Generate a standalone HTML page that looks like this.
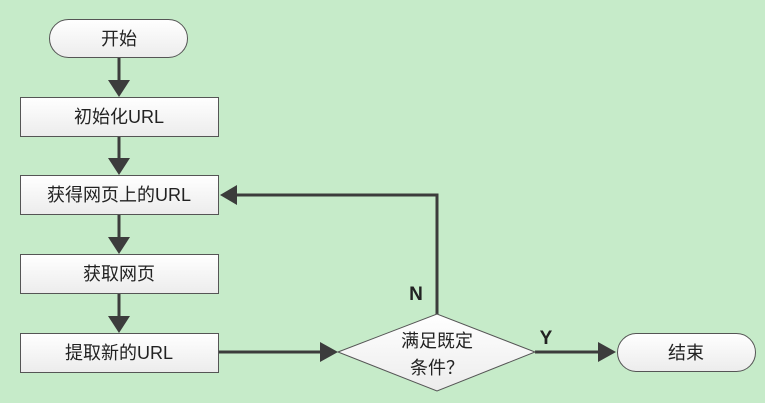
<!DOCTYPE html>
<html><head><meta charset="utf-8"><style>
html,body{margin:0;padding:0;background:#c6ebc9;}
svg{display:block;}
text{font-family:"Liberation Sans","Noto Sans CJK SC",sans-serif;font-size:18px;fill:#222;}
</style></head><body>
<svg width="765" height="403" viewBox="0 0 765 403" xmlns="http://www.w3.org/2000/svg">
<defs>
<linearGradient id="g" x1="0" y1="0" x2="0" y2="1">
<stop offset="0" stop-color="#ffffff"/><stop offset="1" stop-color="#ececec"/>
</linearGradient>
</defs>
<rect width="765" height="403" fill="#c6ebc9"/>
<g stroke="#3c3c3c" stroke-width="3" fill="none">
<line x1="119" y1="57" x2="119" y2="80"/>
<line x1="119" y1="136" x2="119" y2="158"/>
<line x1="119" y1="214" x2="119" y2="237"/>
<line x1="119" y1="293" x2="119" y2="316"/>
<line x1="218" y1="352" x2="322" y2="352"/>
<line x1="535" y1="352" x2="600" y2="352"/>
<polyline points="437,314 437,195 236,195"/>
</g>
<g fill="#3c3c3c">
<polygon points="108,80 130,80 119,97"/>
<polygon points="108,158 130,158 119,175"/>
<polygon points="108,237 130,237 119,254"/>
<polygon points="108,316 130,316 119,333"/>
<polygon points="320,342 320,362 338,352"/>
<polygon points="598,342 598,362 616,352"/>
<polygon points="237,185 237,205 220,195"/>
</g>
<g stroke="#555" stroke-width="1" fill="url(#g)">
<rect x="49.5" y="19.5" width="138" height="38" rx="19"/>
<rect x="20.5" y="97.5" width="198" height="39"/>
<rect x="20.5" y="175.5" width="198" height="39"/>
<rect x="20.5" y="254.5" width="198" height="39"/>
<rect x="20.5" y="333.5" width="198" height="39"/>
<polygon points="338,352 437,314 535,352 437,391"/>
<rect x="617.5" y="333.5" width="138" height="38" rx="19"/>
</g>
<g text-anchor="middle">
<text x="119" y="45">开始</text>
<text x="119" y="123">初始化URL</text>
<text x="119" y="201">获得网页上的URL</text>
<text x="119" y="280">获取网页</text>
<text x="119" y="359">提取新的URL</text>
<text x="437" y="347">满足既定</text>
<text x="437" y="374">条件？</text>
<text x="686" y="359">结束</text>
<text x="416" y="300" style="font-weight:bold;font-size:19px">N</text>
<text x="546" y="344" style="font-weight:bold;font-size:19px">Y</text>
</g>
</svg>
</body></html>
